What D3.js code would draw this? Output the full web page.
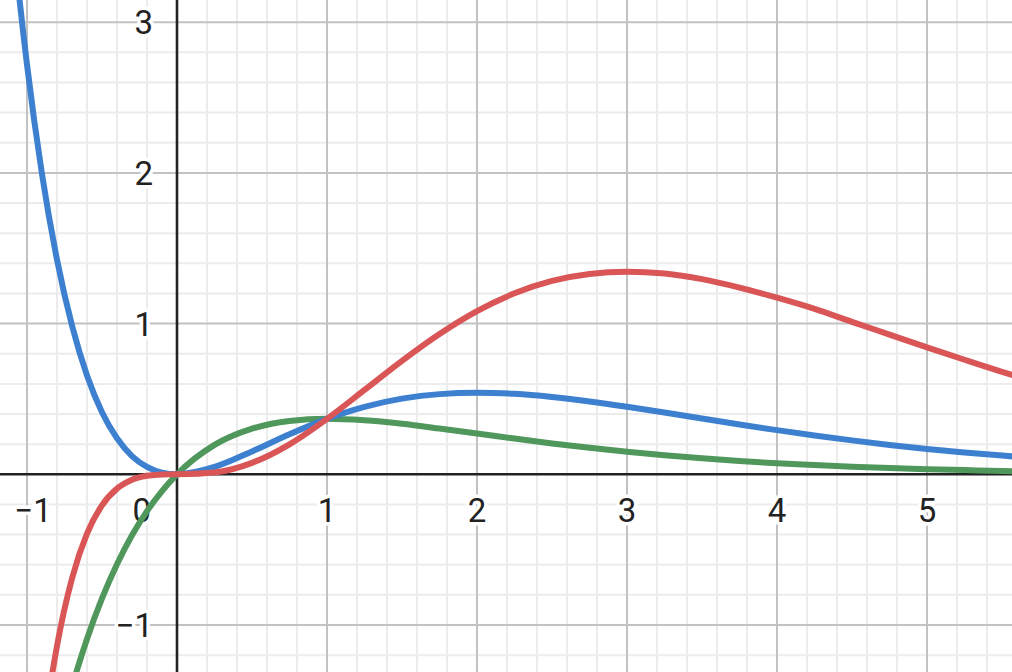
<!DOCTYPE html>
<html><head><meta charset="utf-8">
<script src="https://cdn.jsdelivr.net/npm/d3@7"></script>
<style>html,body{margin:0;padding:0;background:#fff;overflow:hidden}</style>
</head><body>
<svg id="c" width="1012" height="672"></svg>
<script>
// sample x positions
const xs = [-1.2,-1.1,-1.0,-0.9,-0.8,-0.7,-0.6,-0.5,-0.4,-0.3,-0.2,-0.1,0,
  0.25,0.5,0.75,1.0,1.25,1.5,1.75,2.0,2.25,2.5,2.75,3.0,3.25,3.5,3.75,4.0,4.25,4.5,4.75,5.0,5.25,5.5,5.75];
// green curve values
const greenY = [-3.984,-3.305,-2.718,-2.214,-1.780,-1.410,-1.093,-0.824,-0.597,-0.405,-0.244,-0.111,0,
  0.195,0.303,0.354,0.368,0.358,0.335,0.304,0.271,0.237,0.205,0.176,0.149,0.126,0.106,0.088,0.073,0.061,0.050,0.041,0.034,0.028,0.022,0.018];
// blue curve values
const blueY = [4.781,3.635,2.718,1.992,1.424,0.987,0.656,0.412,0.239,0.121,0.049,0.011,0,
  0.049,0.152,0.266,0.368,0.448,0.502,0.532,0.541,0.534,0.513,0.483,0.448,0.410,0.370,0.330,0.293,0.258,0.225,0.195,0.168,0.145,0.124,0.105];
// red curve values
const redY = [-5.737,-3.999,-2.718,-1.793,-1.139,-0.691,-0.394,-0.206,-0.095,-0.036,-0.010,-0.001,0,
  0.012,0.076,0.199,0.368,0.560,0.753,0.931,1.083,1.201,1.283,1.329,1.344,1.332,1.295,1.239,1.172,1.098,1.012,0.927,0.842,0.760,0.680,0.605];
const xTicks = [-1,1,2,3,4,5];
const xZeroLabel = [0];
const yTicks = [-1,1,2,3];

const W = 1012, H = 672;
const x0 = 177, y0 = 474.3, kx = 150, ky = 150.7;
const x = d3.scaleLinear().domain([-x0/kx, (W-x0)/kx]).range([0, W]);
const y = d3.scaleLinear().domain([-(H-y0)/ky, y0/ky]).range([H, 0]);

const svg = d3.select('#c');
svg.append('defs').append('clipPath').attr('id','clip')
  .append('rect').attr('width',W).attr('height',H);

const minorX = d3.range(Math.ceil(x.domain()[0]*5), Math.floor(x.domain()[1]*5)+1).map(v=>v/5).filter(v=>Math.abs(v-Math.round(v))>1e-6);
const minorY = d3.range(Math.ceil(y.domain()[0]*5), Math.floor(y.domain()[1]*5)+1).map(v=>v/5).filter(v=>Math.abs(v-Math.round(v))>1e-6);
const majorX = d3.range(Math.ceil(x.domain()[0]), Math.floor(x.domain()[1])+1).filter(v=>v!==0);
const majorY = d3.range(Math.ceil(y.domain()[0]), Math.floor(y.domain()[1])+1).filter(v=>v!==0);

const g = svg.append('g');
g.selectAll('.mx').data(minorX).join('line').attr('x1',d=>x(d)).attr('x2',d=>x(d)).attr('y1',0).attr('y2',H)
  .attr('stroke','#ececec').attr('stroke-width',2);
g.selectAll('.my').data(minorY).join('line').attr('y1',d=>y(d)).attr('y2',d=>y(d)).attr('x1',0).attr('x2',W)
  .attr('stroke','#ececec').attr('stroke-width',2);
g.selectAll('.Mx').data(majorX).join('line').attr('x1',d=>x(d)).attr('x2',d=>x(d)).attr('y1',0).attr('y2',H)
  .attr('stroke','#c2c2c2').attr('stroke-width',2);
g.selectAll('.My').data(majorY).join('line').attr('y1',d=>y(d)).attr('y2',d=>y(d)).attr('x1',0).attr('x2',W)
  .attr('stroke','#c2c2c2').attr('stroke-width',2);

// axes
g.append('line').attr('x1',0).attr('x2',W).attr('y1',y(0)).attr('y2',y(0)).attr('stroke','#222').attr('stroke-width',2.6);
g.append('line').attr('y1',0).attr('y2',H).attr('x1',x(0)).attr('x2',x(0)).attr('stroke','#222').attr('stroke-width',2.6);

// labels
const fmt = v => v < 0 ? '\u2212' + Math.abs(v) : String(v);
const lab = svg.append('g').attr('font-family','Roboto, "Noto Sans", sans-serif').attr('font-size',33)
  .attr('fill','#222').attr('stroke','#fff').attr('stroke-width',7).attr('stroke-linejoin','round')
  .style('paint-order','stroke');
lab.selectAll('.xl').data(xTicks).join('text')
  .attr('x',d=>x(d) + (d<0?6:0)).attr('y',y(0)+48).attr('text-anchor','middle').text(fmt);
lab.selectAll('.x0').data(xZeroLabel).join('text')
  .attr('x',x(0)-26).attr('y',y(0)+48).attr('text-anchor','end').text(d=>d);
lab.selectAll('.yl').data(yTicks).join('text')
  .attr('x',x(0)-24).attr('y',d=>y(d)+12).attr('text-anchor','end').text(fmt);

// curves
const line = d3.line().x(d=>x(d[0])).y(d=>y(d[1])).curve(d3.curveMonotoneX);
const cg = svg.append('g').attr('clip-path','url(#clip)');
[[greenY,'#4f975a'],[blueY,'#3d80d0'],[redY,'#da5656']].forEach(([ys,c])=>{
  cg.append('path').datum(xs.map((v,i)=>[v,ys[i]])).attr('d',line)
    .attr('fill','none').attr('stroke',c).attr('stroke-width',6).attr('stroke-linejoin','round');
});
</script>
</body></html>
